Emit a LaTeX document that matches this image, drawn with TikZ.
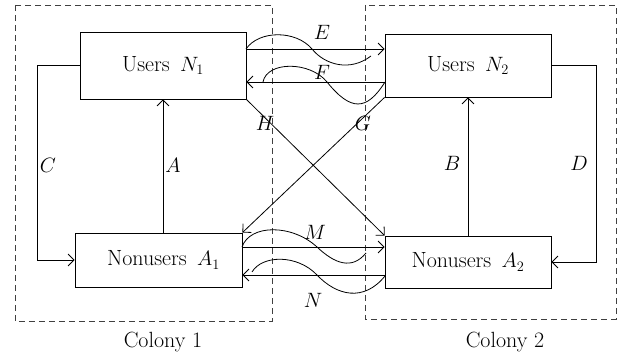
\documentclass[tikz,border=0pt]{standalone}
\usetikzlibrary{arrows.meta}
\begin{document}
\begin{tikzpicture}[x=1pt,y=-1pt,
  line width=0.8pt,
  lbl/.style={font=\fontsize{20}{24}\selectfont, inner sep=0pt},
  ctext/.style={font=\fontsize{22}{26}\selectfont, inner sep=0pt},
  box/.style={draw, rectangle, inner sep=0pt, font=\fontsize{22}{26}\selectfont},
  arr/.style={-{Straight Barb[length=6pt,width=12pt]}},
  colony/.style={draw=black!75, dash pattern=on 6pt off 4pt, line width=0.8pt}]
\useasboundingbox (0,0) rectangle (619,355);
% colonies
\draw[colony] (15,5) rectangle (272,321);
\draw[colony] (365,5) rectangle (616,319);
% boxes
\node[box, minimum width=166pt, minimum height=67pt] (N1) at (163,65.5) {Users\ \,$N_1$};
\node[box, minimum width=166pt, minimum height=63pt] (N2) at (468,65.5) {Users\ \,$N_2$};
\node[box, minimum width=167pt, minimum height=54pt] (A1) at (158.5,260) {\hspace{10pt}Nonusers\ \,$A_1$};
\node[box, minimum width=166pt, minimum height=52pt] (A2) at (468,262) {Nonusers\ \,$A_2$};
% within colony
\draw[arr] (N1.west) -- ++(-42,0) |- (A1.west);
\draw[arr] (N2.east) -- ++(45,0) |- (A2.east);
\draw[arr] (N1.south |- A1.north) -- (N1.south);
\draw[arr] (A2.north) -- (N2.south);
% horizontal
\draw[arr] (N1.east |- 0,49) -- (N2.west |- 0,49);
\draw[arr] (N2.west |- 0,82) -- (N1.east |- 0,82);
\draw[arr] (A1.east |- 0,247) -- (A2.west |- 0,247);
\draw[arr] (A2.west |- 0,275) -- (A1.east |- 0,275);
% diagonals
\draw[arr] (N1.south east) -- (A2.north west);
\draw[arr] (N2.south west) -- (A1.north east);
% waves
\draw (246,49) .. controls (259,30) and (296,30) .. (312,49)
  .. controls (325,65) and (350,72) .. (371,56);
\draw (263,82) .. controls (267,61) and (310,61) .. (327,82)
  .. controls (350.7,111.3) and (366.6,111.3) .. (385,82);
\draw (242,247) .. controls (250,224) and (292,224) .. (317,247)
  .. controls (335,264) and (352,270) .. (366,253);
\draw (252,272) .. controls (262,255) and (297,254) .. (317,275)
  .. controls (337,296) and (364,302) .. (385,276);
% labels
\node[lbl] (lE) at (322,32) {$E$};
\node[lbl] (lF) at (322,72) {$F$};
\node[lbl] (lM) at (315,232) {$M$};
\node[lbl] (lN) at (313,300) {$N$};
\node[lbl] (lH) at (265,123) {$H$};
\node[lbl] (lG) at (363,123) {$G$};
\node[lbl] (lC) at (48,165) {$C$};
\node[lbl] (lA) at (173,165) {$A$};
\node[lbl] (lB) at (452,163) {$B$};
\node[lbl] (lD) at (579,163) {$D$};
\node[ctext] (c1) at (163,342) {Colony 1};
\node[ctext] (c2) at (505,342) {Colony 2};
\end{tikzpicture}
\end{document}
